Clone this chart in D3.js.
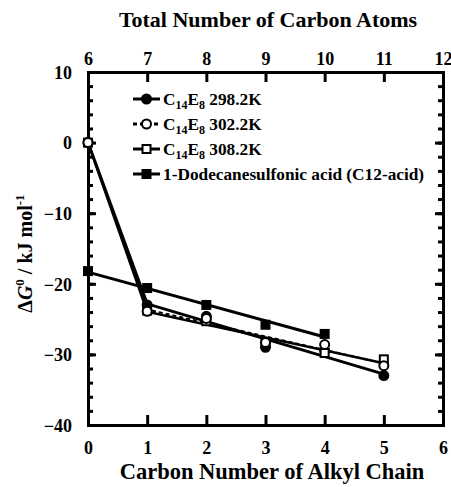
<!DOCTYPE html>
<html>
<head>
<meta charset="utf-8">
<script src="https://cdn.jsdelivr.net/npm/d3@7"></script>
<style>
  body { margin: 0; background: #fff; }
  text { font-family: "Liberation Serif", "Times New Roman", serif; font-weight: bold; fill: #000; }
</style>
</head>
<body>
<div id="chart"></div>
<script>
// data
const carbonNumber = [0, 1, 2, 3, 4, 5];
const g298 = [0, -23.0, -24.6, -29.0, -29.5, -33.0];
const g302 = [0, -23.9, -24.9, -28.3, -28.6, -31.6];
const g308 = [0, -23.8, -25.3, -28.4, -29.8, -30.7];
const acidCarbon = [0, 1, 2, 3, 4];
const gAcid = [-18.2, -20.6, -23.0, -25.8, -27.1];
const xTicks = [0, 1, 2, 3, 4, 5, 6];
const topTicks = [6, 7, 8, 9, 10, 11, 12];
const yTicks = [10, 0, -10, -20, -30, -40];

const width = 451, height = 487;
const margin = { top: 72, right: 8, bottom: 62, left: 88 };
const innerW = width - margin.left - margin.right;
const innerH = height - margin.top - margin.bottom;

const svg = d3.select("#chart").append("svg")
    .attr("width", width)
    .attr("height", height);

const g = svg.append("g")
    .attr("transform", `translate(${margin.left},${margin.top})`);

const x = d3.scaleLinear().domain([0, 6]).range([0, innerW]);
const xTop = d3.scaleLinear().domain([6, 12]).range([0, innerW]);
const y = d3.scaleLinear().domain([-40, 10]).range([innerH, 0]);

// least squares line through part of a series
function fit(xs, ys) {
    const mx = d3.mean(xs), my = d3.mean(ys);
    let num = 0, den = 0;
    xs.forEach((v, i) => { num += (v - mx) * (ys[i] - my); den += (v - mx) * (v - mx); });
    const b = num / den;
    return v => my + b * (v - mx);
}

// axes (ticks pointing inward)
const fontSize = 18;
const axBottom = g.append("g")
    .attr("transform", `translate(0,${innerH})`)
    .call(d3.axisBottom(x).tickValues(xTicks).tickSize(-10).tickPadding(16).tickFormat(d3.format("d")));
const axTop = g.append("g")
    .call(d3.axisTop(xTop).tickValues(topTicks).tickSize(-10).tickPadding(7).tickFormat(d3.format("d")));
const axLeft = g.append("g")
    .call(d3.axisLeft(y).tickValues(yTicks).tickSize(-8).tickPadding(16).tickFormat(d3.format("d")));
const axLeftMinor = g.append("g")
    .call(d3.axisLeft(y).tickValues(d3.range(-40, 11, 2)).tickSize(-5).tickFormat(""));
const axRight = g.append("g")
    .attr("transform", `translate(${innerW},0)`)
    .call(d3.axisRight(y).tickValues(yTicks).tickSize(-8).tickFormat(""));
const axRightMinor = g.append("g")
    .attr("transform", `translate(${innerW},0)`)
    .call(d3.axisRight(y).tickValues(d3.range(-40, 11, 2)).tickSize(-5).tickFormat(""));

[axBottom, axTop, axLeft, axLeftMinor, axRight, axRightMinor].forEach(a => {
    a.select(".domain").attr("stroke", "#000").attr("stroke-width", 3);
    a.selectAll(".tick line").attr("stroke", "#000").attr("stroke-width", 3);
    a.selectAll("text")
        .style("font-size", `${fontSize}px`)
        .style("font-family", "'Liberation Serif', serif")
        .style("font-weight", "bold");
});
axLeft.selectAll("text").attr("dy", "0.35em");

// lines
const line = d3.line().x(d => x(d[0])).y(d => y(d[1]));
function drawSeries(xs, ys, fitFrom, dash, sw) {
    const fx = xs.slice(fitFrom), fy = ys.slice(fitFrom);
    const f = fit(fx, fy);
    const pts = [];
    if (fitFrom > 0) pts.push([xs[0], ys[0]]);
    pts.push([fx[0], f(fx[0])], [fx[fx.length - 1], f(fx[fx.length - 1])]);
    g.append("path")
        .attr("d", line(pts))
        .attr("fill", "none")
        .attr("stroke", "#000")
        .attr("stroke-width", sw)
        .attr("stroke-dasharray", dash);
}
drawSeries(carbonNumber, g308, 1, null, 2.5);
drawSeries(carbonNumber, g302, 1, "4,3", 2);
drawSeries(carbonNumber, g298, 1, null, 3);
drawSeries(acidCarbon, gAcid, 0, null, 3);

// markers
function circles(ys, fill) {
    g.append("g").selectAll("circle")
        .data(ys)
        .join("circle")
        .attr("cx", (d, i) => x(carbonNumber[i]))
        .attr("cy", d => y(d))
        .attr("r", 4.5)
        .attr("fill", fill)
        .attr("stroke", "#000")
        .attr("stroke-width", 2);
}
function squares(xs, ys, fill, s) {
    g.append("g").selectAll("rect")
        .data(ys)
        .join("rect")
        .attr("x", (d, i) => x(xs[i]) - s / 2)
        .attr("y", d => y(d) - s / 2)
        .attr("width", s)
        .attr("height", s)
        .attr("fill", fill)
        .attr("stroke", "#000")
        .attr("stroke-width", 2);
}
circles(g298, "#000");
squares(carbonNumber, g308, "#fff", 8);
circles(g302, "#fff");
squares(acidCarbon, gAcid, "#000", 8);

// legend
const legendItems = [
    { label: ["C", "14", "E", "8", " 298.2K"], mark: "circle", fill: "#000", dash: null },
    { label: ["C", "14", "E", "8", " 302.2K"], mark: "circle", fill: "#fff", dash: "4,3" },
    { label: ["C", "14", "E", "8", " 308.2K"], mark: "square", fill: "#fff", dash: null },
    { label: ["1-Dodecanesulfonic acid (C12-acid)"], mark: "square", fill: "#000", dash: null }
];
const legend = svg.append("g").attr("transform", "translate(133,99)");
legendItems.forEach((item, i) => {
    const row = legend.append("g").attr("transform", `translate(0,${i * 25})`);
    row.append("line")
        .attr("x1", 0).attr("x2", 27)
        .attr("stroke", "#000").attr("stroke-width", 3)
        .attr("stroke-dasharray", item.dash);
    if (item.mark === "circle") {
        row.append("circle").attr("cx", 13.5).attr("r", 4.5)
            .attr("fill", item.fill).attr("stroke", "#000").attr("stroke-width", 2);
    } else {
        row.append("rect").attr("x", 9.5).attr("y", -4).attr("width", 8).attr("height", 8)
            .attr("fill", item.fill).attr("stroke", "#000").attr("stroke-width", 2);
    }
    const t = row.append("text")
        .attr("x", 30).attr("y", 6)
        .style("font-size", "17.3px");
    item.label.forEach((part, j) => {
        const sub = j % 2 === 1 && item.label.length > 1 && j < 4;
        t.append("tspan")
            .text(part)
            .style("font-size", sub ? "12px" : "17.3px")
            .attr("dy", sub ? 4 : (j > 0 ? -4 : 0));
    });
});

// axis titles
svg.append("text")
    .attr("x", 268).attr("y", 27)
    .attr("text-anchor", "middle")
    .style("font-size", "22px")
    .text("Total Number of Carbon Atoms");
svg.append("text")
    .attr("x", 272).attr("y", 479)
    .attr("text-anchor", "middle")
    .style("font-size", "22.5px")
    .text("Carbon Number of Alkyl Chain");

const yTitle = svg.append("text")
    .attr("transform", `translate(32,${margin.top + innerH / 2 + 5}) rotate(-90)`)
    .attr("text-anchor", "middle")
    .style("font-size", "20px");
yTitle.append("tspan").text("\u0394");
yTitle.append("tspan").text("G").style("font-style", "italic");
yTitle.append("tspan").text("0").style("font-size", "13px").attr("dy", -8);
yTitle.append("tspan").text(" / kJ mol").attr("dy", 8);
yTitle.append("tspan").text("-1").style("font-size", "13px").attr("dy", -8);
</script>
</body>
</html>
